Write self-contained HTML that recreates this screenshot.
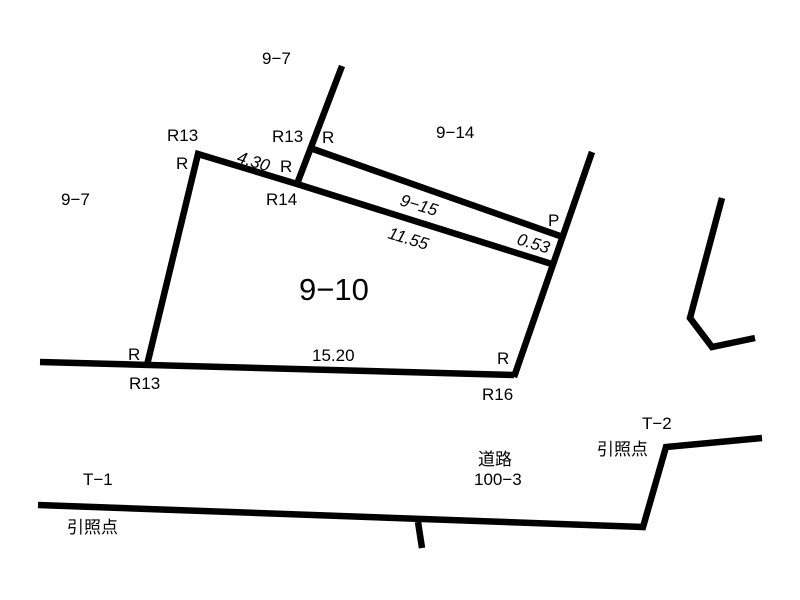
<!DOCTYPE html>
<html><head><meta charset="utf-8"><style>body{margin:0;background:#fff}svg{display:block}text{font-family:"Liberation Sans","Noto Sans CJK JP",sans-serif;fill:#000}</style></head><body>
<svg width="800" height="600" viewBox="0 0 800 600">
<g stroke="#000" stroke-width="6.5" fill="none" stroke-linecap="butt" stroke-linejoin="miter">
<polyline points="147,365 198,154 297,184 555,265"/>
<line x1="342" y1="66" x2="297" y2="184"/>
<line x1="313" y1="149" x2="560" y2="236"/>
<line x1="592" y1="152" x2="514" y2="377"/>
<line x1="40" y1="362" x2="514" y2="375"/>
<polyline points="38,505 643,527 666,447 762,438"/>
<line x1="418" y1="522" x2="422" y2="548"/>
<polyline points="722,198 690,318 712,347 755,338"/>
</g>
<g font-size="17">
<text x="262" y="64">9−7</text>
<text x="61" y="205">9−7</text>
<text x="436" y="138">9−14</text>
<text x="167" y="141">R13</text>
<text x="176" y="169">R</text>
<text x="272" y="142">R13</text>
<text x="322" y="143">R</text>
<text x="280" y="172">R</text>
<text x="266" y="205">R14</text>
<text x="548" y="226">P</text>
<text x="128" y="360">R</text>
<text x="129" y="389">R13</text>
<text x="497" y="364">R</text>
<text x="482" y="400">R16</text>
<text x="312" y="361">15.20</text>
<text x="642" y="429">T−2</text>
<text x="597" y="455">引照点</text>
<text x="478" y="465">道路</text>
<text x="474" y="485">100−3</text>
<text x="83" y="485">T−1</text>
<text x="67" y="533">引照点</text>
<g font-style="italic">
<text transform="translate(236,162) rotate(17)">4.30</text>
<text transform="translate(399,205) rotate(17)">9−15</text>
<text transform="translate(387,238) rotate(17)">11.55</text>
<text transform="translate(516,244) rotate(17)">0.53</text>
</g>
</g>
<text x="299" y="300" font-size="31">9−10</text>
</svg>
</body></html>
